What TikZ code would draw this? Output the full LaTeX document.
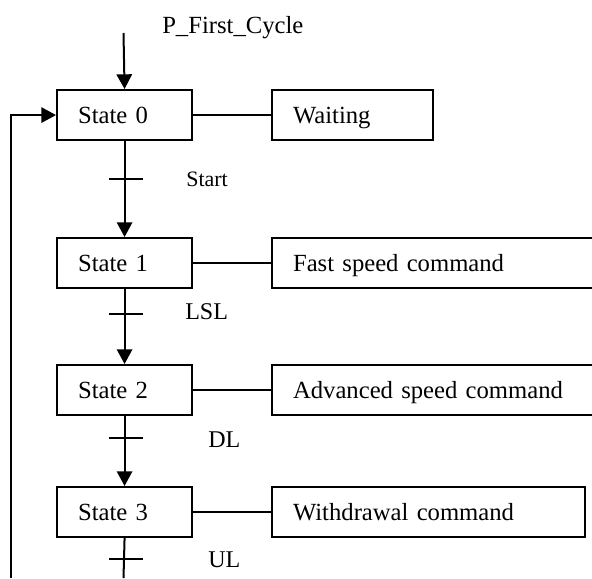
\documentclass[tikz,border=0pt]{standalone}
\usepackage{fontspec}
\setmainfont{Liberation Serif}
\usetikzlibrary{arrows.meta}

\tikzset{
    box/.style={draw, line width=1.6pt, anchor=north west, minimum height=37.5pt,
        inner xsep=15.75pt, inner ysep=0pt, text width=#1, align=left,
        text height=12.3pt, text depth=0pt, font=\fontsize{18.5}{22}\selectfont},
    flow/.style={line width=1.5pt, -{Triangle[length=11pt,width=11.5pt]}},
    link/.style={line width=1.1pt},
    tick/.style={line width=1.1pt},
    cond/.style={anchor=base west, inner sep=0pt, font=\fontsize{18}{22}\selectfont},
}

\begin{document}
\begin{tikzpicture}[x=0.75pt, y=-0.75pt]
    \useasboundingbox (0,0) rectangle (592,578);

    % states
    \node[box=69.75pt] (s0) at (56,89) {State 0};
    \node[box=69.75pt] (s1) at (56,237) {State 1};
    \node[box=69.75pt] (s2) at (56,364) {State 2};
    \node[box=69.75pt] (s3) at (56,486) {State 3};

    % actions
    \node[box=89.25pt] (a0) at (271,89) {Waiting};
    \node[box=215.25pt] (a1) at (271,237) {Fast speed command};
    \node[box=215.25pt] (a2) at (271,364) {Advanced speed command};
    \node[box=203.25pt] (a3) at (271,486) {Withdrawal command};

    \foreach \i in {0,...,3}
        \draw[link] (s\i.east) -- (a\i.west);

    % initial step
    \node[cond, font=\fontsize{18.5}{22}\selectfont] (init) at (162,33) {P\_First\_Cycle};
    \coordinate (top) at (123.5,33);
    \draw[flow] (top) -- (s0.north);

    % sequence
    \draw[flow] (s0.south) -- (s1.north);
    \draw[flow] (s1.south) -- (s2.north);
    \draw[flow] (s2.south) -- (s3.north);
    \coordinate (bot) at (123.5,578);
    \draw[line width=1.5pt] (s3.south) -- (bot);

    % loop back
    \coordinate (back) at (10.5,578);
    \draw[flow] (back) |- (s0.west);

    % transitions
    \foreach \y in {179,314,438,559}
        \draw[tick] (109,\y) -- (143,\y);
    \node[cond, font=\fontsize{16.5}{20}\selectfont] (c0) at (186,186) {Start};
    \node[cond] (c1) at (185,319) {LSL};
    \node[cond] (c2) at (208,447) {DL};
    \node[cond] (c3) at (208,567) {UL};
\end{tikzpicture}
\end{document}
